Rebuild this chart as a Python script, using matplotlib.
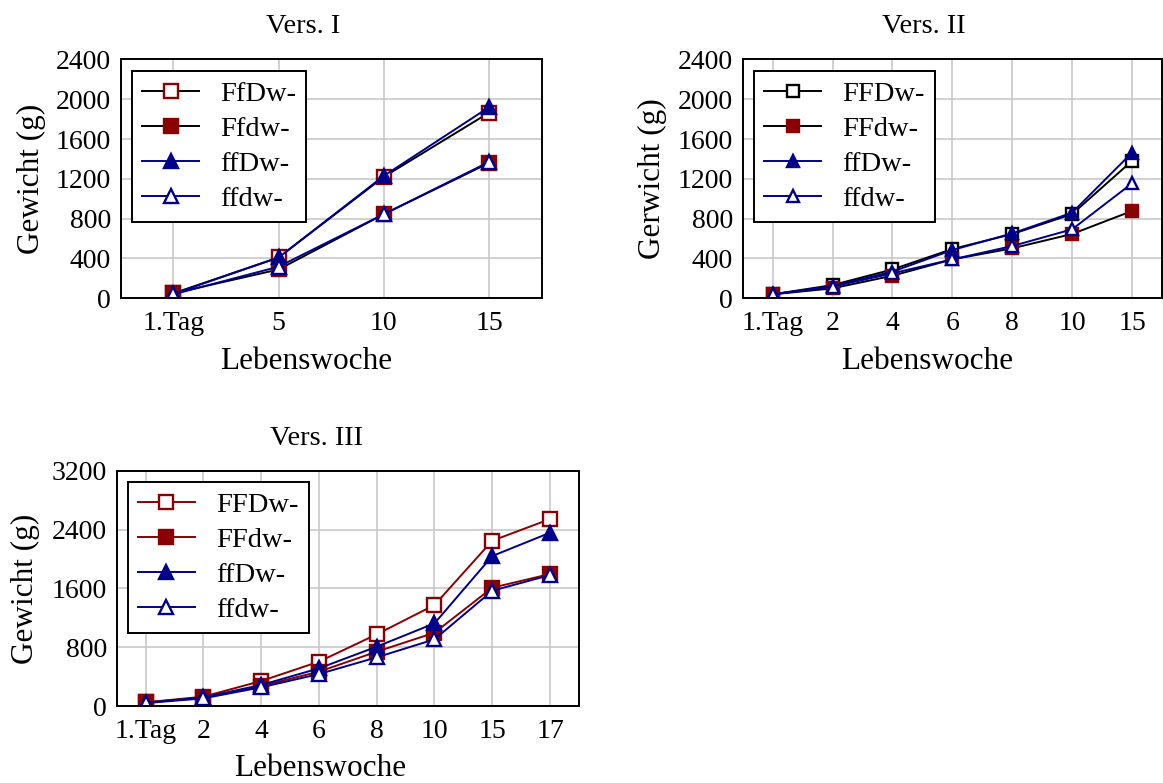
import numpy as np
import matplotlib
matplotlib.use('Agg')
import matplotlib.pyplot as plt

plt.rcParams['font.family'] = ['Liberation Serif', 'DejaVu Serif']

DARKRED = '#8b0000'
NAVY = '#00008b'

# Vers. I
x1_labels = ['1.Tag', '5', '10', '15']
v1_FfDw = [50, 410, 1220, 1865]
v1_Ffdw = [50, 290, 845, 1360]
v1_ffDw = [45, 410, 1230, 1920]
v1_ffdw = [40, 318, 845, 1370]

# Vers. II
x2_labels = ['1.Tag', '2', '4', '6', '8', '10', '15']
v2_FFDw = [40, 133, 290, 495, 645, 846, 1380]
v2_FFdw = [40, 100, 227, 391, 502, 646, 877]
v2_ffDw = [40, 123, 268, 485, 652, 860, 1463]
v2_ffdw = [40, 117, 251, 391, 525, 693, 1155]

# Vers. III
x3_labels = ['1.Tag', '2', '4', '6', '8', '10', '15', '17']
v3_FFDw = [50, 127, 340, 603, 975, 1374, 2248, 2543]
v3_FFdw = [50, 113, 272, 467, 739, 997, 1609, 1795]
v3_ffDw = [45, 118, 286, 512, 807, 1124, 2040, 2357]
v3_ffdw = [40, 104, 254, 435, 662, 907, 1568, 1781]

fig = plt.figure(figsize=(11.63, 7.83), dpi=100)


def style_axes(ax, labels, ymax, ystep, title, ylabel, ms):
    ax.set_xlim(-0.5, len(labels) - 0.5)
    ax.set_xticks(np.arange(len(labels)))
    ax.set_xticklabels(labels)
    ax.set_ylim(0, ymax)
    ax.set_yticks(np.arange(0, ymax + 1, ystep))
    ax.grid(True, color='#c8c8c8', linewidth=1.2)
    ax.set_axisbelow(True)
    ax.tick_params(length=0, labelsize=20)
    ax.tick_params(axis='x', pad=9)
    ax.tick_params(axis='y', pad=7)
    for s in ax.spines.values():
        s.set_linewidth(1.4)
    ax.text(0.433, 1.11, title, transform=ax.transAxes, ha='center',
            va='baseline', fontsize=20.5)
    ax.set_ylabel(ylabel, fontsize=22.5)
    ax.set_xlabel('Lebenswoche', fontsize=22.5)
    ax.xaxis.set_label_coords(0.44, -0.205)
    leg = ax.legend(loc='upper left', fontsize=20.5, frameon=True, fancybox=False,
                    framealpha=1, edgecolor='black', handlelength=2.0,
                    handletextpad=0.75, labelspacing=0.32, borderpad=0.35,
                    borderaxespad=0.4, markerscale=ms)
    leg.get_frame().set_linewidth(1.4)


# Chart I
ax1 = fig.add_axes([0.1038, 0.619, 0.362, 0.3052])
x = np.arange(len(x1_labels))
ax1.plot(x, v1_FfDw, color='black', lw=1.4, marker='s', ms=10, mfc='white', mec=DARKRED, mew=1.7, label='FfDw-')
ax1.plot(x, v1_Ffdw, color='black', lw=1.4, marker='s', ms=10, mfc=DARKRED, mec=DARKRED, mew=1.7, label='Ffdw-')
ax1.plot(x, v1_ffDw, color=NAVY, lw=1.4, marker='^', ms=10, mfc=NAVY, mec=NAVY, mew=1.7, label='ffDw-')
ax1.plot(x, v1_ffdw, color=NAVY, lw=1.4, marker='^', ms=10, mfc='white', mec=NAVY, mew=1.7, label='ffdw-')
style_axes(ax1, x1_labels, 2400, 400, 'Vers. I', 'Gewicht (g)', 0.95)
ax1.yaxis.set_label_coords(-0.177, 0.5)

# Chart II
ax2 = fig.add_axes([0.6386, 0.619, 0.3605, 0.3052])
x = np.arange(len(x2_labels))
ax2.plot(x, v2_FFDw, color='black', lw=1.4, marker='s', ms=9, mfc='white', mec='black', mew=1.7, label='FFDw-')
ax2.plot(x, v2_FFdw, color='black', lw=1.4, marker='s', ms=9, mfc=DARKRED, mec=DARKRED, mew=1.7, label='FFdw-')
ax2.plot(x, v2_ffDw, color=NAVY, lw=1.4, marker='^', ms=9, mfc=NAVY, mec=NAVY, mew=1.7, label='ffDw-')
ax2.plot(x, v2_ffdw, color=NAVY, lw=1.4, marker='^', ms=9, mfc='white', mec=NAVY, mew=1.7, label='ffdw-')
style_axes(ax2, x2_labels, 2400, 400, 'Vers. II', 'Gerwicht (g)', 0.9)
ax2.yaxis.set_label_coords(-0.181, 0.5)

# Chart III
ax3 = fig.add_axes([0.1003, 0.0983, 0.3975, 0.3005])
x = np.arange(len(x3_labels))
ax3.plot(x, v3_FFDw, color=DARKRED, lw=1.4, marker='s', ms=9.5, mfc='white', mec=DARKRED, mew=1.7, label='FFDw-')
ax3.plot(x, v3_FFdw, color=DARKRED, lw=1.4, marker='s', ms=9.5, mfc=DARKRED, mec=DARKRED, mew=1.7, label='FFdw-')
ax3.plot(x, v3_ffDw, color=NAVY, lw=1.4, marker='^', ms=9.5, mfc=NAVY, mec=NAVY, mew=1.7, label='ffDw-')
ax3.plot(x, v3_ffdw, color=NAVY, lw=1.4, marker='^', ms=9.5, mfc='white', mec=NAVY, mew=1.7, label='ffdw-')
style_axes(ax3, x3_labels, 3200, 800, 'Vers. III', 'Gewicht (g)', 1.0)
ax3.yaxis.set_label_coords(-0.165, 0.5)

fig.savefig('out.png', dpi=100)
